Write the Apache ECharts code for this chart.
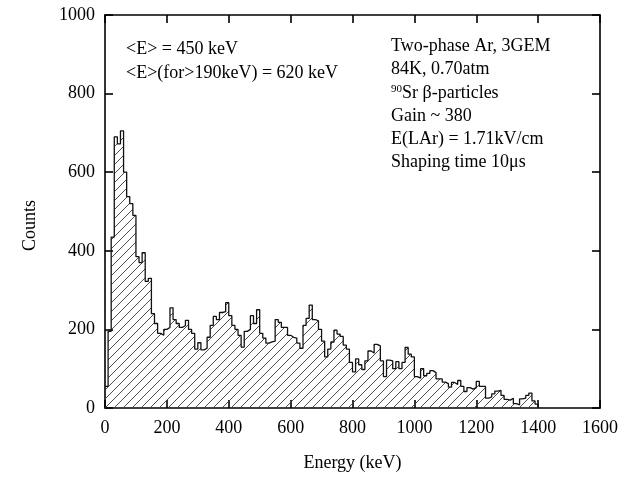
<!DOCTYPE html>
<html>
<head>
<meta charset="utf-8">
<script src="https://cdn.jsdelivr.net/npm/echarts@6/dist/echarts.min.js"></script>
<style>
html, body { margin: 0; padding: 0; background: #fff; }
#chart { width: 631px; height: 477px; }
</style>
</head>
<body>
<div id="chart"></div>
<script>
// bin width 10 keV, counts
var binWidth = 10;
var counts = [
	55, 195, 435, 690, 672, 705, 600, 538, 520, 490,
	385, 370, 395, 322, 330, 240, 215, 190, 185, 200,
	205, 255, 225, 215, 205, 210, 223, 200, 190, 150,
	166, 148, 152, 180, 210, 233, 225, 243, 245, 268,
	235, 210, 200, 185, 155, 195, 200, 235, 215, 250,
	190, 178, 165, 168, 170, 225, 218, 205, 205, 185,
	180, 178, 165, 152, 210, 228, 262, 225, 222, 200,
	170, 130, 150, 168, 198, 188, 182, 160, 150, 116,
	92, 125, 110, 98, 120, 145, 140, 162, 158, 120,
	80, 122, 120, 100, 118, 100, 116, 154, 137, 130,
	80, 76, 100, 82, 88, 95, 90, 74, 74, 66,
	62, 53, 65, 60, 70, 55, 42, 52, 48, 52,
	68, 55, 55, 25, 28, 36, 43, 45, 32, 22,
	20, 25, 11, 8, 23, 25, 32, 38, 18, 10
];
var xTicks = [0, 1600, 200];
var yTicks = [0, 1000, 200];
var leftNotes = ['<E> = 450 keV', '<E>(for>190keV) = 620 keV'];
var rightNotes = ['Two-phase Ar, 3GEM', '84K, 0.70atm', '{sup|90}Sr β-particles', 'Gain ~ 380', 'E(LAr) = 1.71kV/cm', 'Shaping time 10μs'];

var stepData = counts.map(function (c, i) { return [i * binWidth, c]; });
stepData.push([counts.length * binWidth, 0]);

// hatch pattern "/"
var hatch = document.createElement('canvas');
hatch.width = 9;
hatch.height = 9;
var hctx = hatch.getContext('2d');
hctx.strokeStyle = '#3a3a3a';
hctx.lineWidth = 0.9;
hctx.beginPath();
hctx.moveTo(0, 9); hctx.lineTo(9, 0);
hctx.moveTo(-1, 1); hctx.lineTo(1, -1);
hctx.moveTo(8, 10); hctx.lineTo(10, 8);
hctx.stroke();

var font = '"Liberation Serif", "DejaVu Serif", serif';
var axisCommon = {
	axisLine: { show: true, onZero: false, lineStyle: { color: '#000', width: 1.6 } },
	axisTick: { show: true, inside: true, length: 8, lineStyle: { color: '#000', width: 1.6 } },
	splitLine: { show: false }
};
var plainLabel = function (v) { return String(v); };

var chart = echarts.init(document.getElementById('chart'));
var lineTexts = [];
leftNotes.forEach(function (t, i) {
	lineTexts.push({ type: 'text', left: 126, top: 40 + i * 24, style: { text: t, font: '18px ' + font, fill: '#000' } });
});
rightNotes.forEach(function (t, i) {
	lineTexts.push({
		type: 'text', left: 391, top: 37 + i * 23.3,
		style: {
			text: t, font: '18px ' + font, fill: '#000',
			rich: { sup: { fontSize: 11, verticalAlign: 'top', padding: [0, 0, 8, 0], fontFamily: font } }
		}
	});
});

chart.setOption({
	animation: false,
	textStyle: { fontFamily: font },
	grid: { left: 105, right: 31, top: 15, bottom: 66 },
	xAxis: [Object.assign({
		type: 'value', min: xTicks[0], max: xTicks[1], interval: xTicks[2],
		name: 'Energy (keV)', nameLocation: 'middle', nameGap: 46,
		nameTextStyle: { fontSize: 18, color: '#000', fontFamily: font },
		axisLabel: { color: '#000', fontSize: 18, margin: 11, fontFamily: font, formatter: plainLabel }
	}, axisCommon), Object.assign({
		type: 'value', position: 'top', min: xTicks[0], max: xTicks[1], interval: xTicks[2],
		axisLabel: { show: false }
	}, axisCommon)],
	yAxis: [Object.assign({
		type: 'value', min: yTicks[0], max: yTicks[1], interval: yTicks[2],
		name: 'Counts', nameLocation: 'middle', nameGap: 66,
		nameTextStyle: { fontSize: 18, color: '#000', fontFamily: font, padding: [0, 28, 0, 0] },
		axisLabel: { color: '#000', fontSize: 18, margin: 10, fontFamily: font, formatter: plainLabel }
	}, axisCommon), Object.assign({
		type: 'value', position: 'right', min: yTicks[0], max: yTicks[1], interval: yTicks[2],
		axisLabel: { show: false }
	}, axisCommon)],
	series: [{
		type: 'line',
		step: 'end',
		data: stepData,
		symbol: 'none',
		lineStyle: { color: '#111', width: 1.3 },
		areaStyle: { color: { image: hatch, repeat: 'repeat' }, opacity: 1 }
	}],
	graphic: lineTexts
});
</script>
</body>
</html>
